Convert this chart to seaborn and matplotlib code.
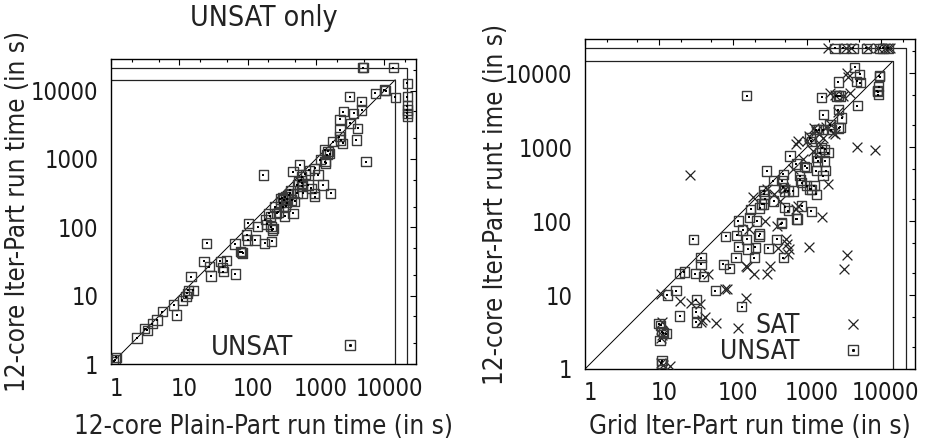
import numpy as np
import pandas as pd
import seaborn as sns
import matplotlib.pyplot as plt
from matplotlib.lines import Line2D
from matplotlib.ticker import FixedLocator, NullFormatter
import matplotlib.transforms as mtransforms

# timeout limit (4h) and the value used to plot failed / timed-out runs
T_LIMIT = 14400
T_FAIL = 21600

# ---- left panel: 12-core Plain-Part vs 12-core Iter-Part, UNSAT only ----
left_x = [1.15, 1.2, 1.1, 2.4, 3.4, 3.1, 4.0, 4.7, 5.6, 8.3, 9.2, 11, 13, 13.5, 12.5, 16,
          14.8, 23, 25, 27.6, 29, 43, 44, 49, 40, 66, 65, 78, 82, 85, 97, 102, 100, 128,
          140, 170, 178, 205, 215, 220, 225, 230, 235, 265, 280, 340, 355, 350, 360, 370,
          380, 415, 440, 460, 490, 525, 460, 575, 610, 620, 630, 615, 640, 760, 850, 960,
          950, 960, 1070, 1260, 1350, 1380, 1350, 1450, 1580, 1630, 1770, 2200, 2300, 2450,
          2240, 2240, 2520, 3100, 3160, 3540, 3870, 4080, 4600, 4650, 5400, 7400, 10500,
          10000, T_LIMIT, T_FAIL, T_FAIL, T_FAIL, T_FAIL, T_FAIL, T_FAIL, 4800, 4900, 13500,
          300, 320, 330, 400, 420, 530, 560, 700, 800, 1150, 1500, 180, 190, 250, 300]
left_y = [1.15, 1.25, 1.1, 2.4, 3.1, 3.3, 3.9, 4.4, 5.8, 7.3, 5.2, 8.6, 10.8, 12, 9.6, 12,
          19, 31.6, 58, 26.5, 19.4, 26, 22.5, 32.6, 32, 20.7, 57, 44, 43, 42, 77, 114, 65, 65,
          102, 583, 58, 160, 144, 102, 62, 91, 96, 160, 165, 250, 280, 144, 205, 230,
          260, 315, 250, 160, 240, 315, 650, 815, 490, 550, 440, 400, 315, 417, 370, 315,
          280, 730, 583, 417, 910, 870, 1350, 1150, 1200, 315, 1780, 2130, 1900, 1700,
          2650, 3800, 4900, 8150, 3330, 4680, 1900, 2820, 6900, 5200, 910, 9100, 10000,
          10200, 8000, 12800, 8150, 6000, 5200, 4650, 4170, T_FAIL, T_FAIL, T_FAIL,
          230, 270, 200, 300, 350, 420, 470, 600, 680, 980, 1300, 130, 110, 200, 260]

# ---- right panel: Grid Iter-Part vs 12-core Iter-Part ----
right_unsat_x = [2400, 3100, 4200, 6400, 9700, 10700, 12600,
                 4450, 4700, 5200, 5300, 2650, 9700, 9400, 9100, 9300, 9000, 9500,
                 4800, 1580, 2500, 2650, 2800, 2650, 2950, 1660, 153,
                 2700, 2800, 2050, 2150, 1350, 1450, 1660, 1100, 1150,
                 1580, 1740, 1950, 1500, 1350, 1400, 1740, 590, 720, 930, 1000,
                 1350, 1800, 1650, 800, 820, 850, 1000, 1100, 1150, 1350, 1250,
                 285, 350, 480, 480, 460, 260, 265, 270, 262, 355, 500, 560, 650,
                 500, 560, 850, 720, 740, 1150, 455, 450, 245, 230, 173, 166, 209,
                 118, 135, 112, 80, 29, 153, 160, 200, 230, 225, 300, 390, 118,
                 110, 195, 480, 37, 37, 74, 91, 19, 22, 31, 40, 17, 13, 58,
                 32, 32, 32, 131, 19, 10, 10.5, 11, 11.5, 12.5, 10.3, 11, 10.8]
right_unsat_y = [T_FAIL, T_FAIL, T_FAIL, T_FAIL, T_FAIL, T_FAIL, T_FAIL,
                 12000, 7750, 9700, 7450, 7600, 9000, 6600, 5650, 5100, 5800, 9300,
                 3630, 4700, 4900, 4950, 4900, 3220, 2470, 2750, 4950,
                 1820, 1850, 2000, 1730, 1730, 1730, 1730, 1330, 1200,
                 980, 930, 840, 840, 720, 650, 650, 760, 590, 550, 530,
                 480, 480, 410, 410, 360, 330, 300, 270, 270, 230, 300,
                 475, 350, 430, 285, 350, 255, 230, 200, 170, 187, 256, 256, 256,
                 153, 138, 160, 107, 107, 135, 95, 92, 170, 150, 145, 112, 100,
                 100, 76, 64, 62, 57, 57, 42, 44, 67, 63, 43, 57, 45,
                 32, 32, 32, 32, 26, 26, 23, 19.5, 20.5, 19.5, 18, 11.5, 10, 11.5,
                 8.7, 5.9, 4.3, 7.0, 5.2, 4.1, 3.9, 3.2, 3.1, 3.0, 2.4, 1.3, 1.2]

right_sat_x = [1940, 3430, 4000, 6700, 9200, 11300, 13200, 12600,
               26, 4800, 8400, 1620, 1070, 3450, 3170, 520, 545, 570, 550, 410, 316, 290,
               190, 150, 155, 150, 116, 59, 42, 38, 36, 37, 46, 27, 19, 10.7, 11, 11, 10.8,
               14, 10.5, 11.5, 82, 78, 166, 185, 285, 270, 355, 480, 500, 390, 720, 760,
               1000, 1080, 1230, 1330, 1500, 1650, 2280, 2400, 2050, 2400, 3100, 3800,
               3450, 3600, 1950, 720, 750, 435, 640, 880, 1200, 1450, 1800, 2100, 2600]
right_sat_y = [T_FAIL, T_FAIL, T_FAIL, T_FAIL, T_FAIL, T_FAIL, T_FAIL, T_FAIL,
               415, 1000, 910, 115, 44, 35, 22.5, 57, 49, 42, 36, 43, 24.5, 19,
               19.5, 25, 24, 9.2, 3.6, 4.2, 5.0, 4.6, 7.6, 4.3, 19.5, 7.8, 8.2, 10.2, 4.3, 2.9, 2.6,
               1.1, 1.2, 1.15, 12.2, 12.0, 78, 210, 270, 100, 230, 285, 270, 87, 1090, 1200,
               1200, 1400, 1820, 1650, 1100, 1340, 1550, 1500, 5400, 5100, 4900, 5400,
               10000, 9000, 315, 145, 160, 187, 500, 700, 900, 1500, 1900, 2000, 3000]

df_left = pd.DataFrame({"x": left_x, "y": left_y})
df_unsat = pd.DataFrame({"x": right_unsat_x, "y": right_unsat_y})
df_sat = pd.DataFrame({"x": right_sat_x, "y": right_sat_y})

sns.set_theme(style="white")
plt.rcParams["font.family"] = ["DejaVu Sans"]
plt.rcParams["font.stretch"] = "condensed"

FS = 17
EDGE = "#3a3a3a"
SQ_SIZE = 44
X_SIZE = 50

fig = plt.figure(figsize=(9.26, 4.43), dpi=100)
ax1 = fig.add_axes([111 / 926, 1 - 364 / 443, 305 / 926, 305 / 443])
ax2 = fig.add_axes([585 / 926, 1 - 369 / 443, 330 / 926, 330 / 443])


def draw_unsat(ax, df):
    sns.scatterplot(data=df, x="x", y="y", ax=ax, marker="s", s=SQ_SIZE,
                    facecolor="none", edgecolor=EDGE, linewidth=1.0, legend=False, zorder=3)
    sns.scatterplot(data=df, x="x", y="y", ax=ax, marker="s", s=1.2,
                    color="black", linewidth=0, legend=False, zorder=4)


def draw_sat(ax, df):
    sns.scatterplot(data=df, x="x", y="y", ax=ax, marker="x", s=X_SIZE,
                    color="#222222", linewidth=0.9, legend=False, zorder=3)


def frame(ax, xlabel, ylabel, xlab_y, ylab_x):
    ax.set_xscale("log")
    ax.set_yscale("log")
    ax.set_xlim(1, 29000)
    ax.set_ylim(1, 29000)
    # diagonal and the two timeout corners
    ax.plot([1, T_LIMIT], [1, T_LIMIT], color="black", lw=0.7, zorder=2)
    for t in (T_LIMIT, T_FAIL):
        ax.plot([1, t, t], [t, t, 1], color="#222222", lw=0.9, zorder=2)
    majors = [1, 10, 100, 1000, 10000]
    minors = [m * 10 ** k for k in range(5) for m in (2, 5)]
    for axis in (ax.xaxis, ax.yaxis):
        axis.set_major_locator(FixedLocator(majors))
        axis.set_minor_locator(FixedLocator(minors))
        axis.set_minor_formatter(NullFormatter())
    ax.set_xticklabels([str(v) for v in majors])
    ax.set_yticklabels([str(v) for v in majors])
    ax.tick_params(which="both", direction="in", top=True, right=True,
                   labelsize=FS, colors="black", labelcolor="#1a1a1a")
    ax.tick_params(which="major", length=4, width=0.8, pad=9)
    ax.tick_params(which="minor", length=2.5, width=0.8)
    shift = mtransforms.ScaledTranslation(5 / 100, 0, fig.dpi_scale_trans)
    for lab in ax.get_xticklabels():
        lab.set_transform(lab.get_transform() + shift)
    for sp in ax.spines.values():
        sp.set_color("black")
        sp.set_linewidth(1.0)
    ax.set_xlabel(xlabel, fontsize=FS + 1.6, color="#222222")
    ax.set_ylabel(ylabel, fontsize=FS + 1.6, color="#222222")
    ax.xaxis.set_label_coords(0.5, xlab_y)
    ax.yaxis.set_label_coords(ylab_x, 0.5)
    ax.xaxis.label.set_va("center")
    ax.yaxis.label.set_va("center")


draw_unsat(ax1, df_left)
frame(ax1, "12-core Plain-Part run time (in s)", "12-core Iter-Part run time (in s)",
      -0.207, -0.305)

draw_sat(ax2, df_sat)
draw_unsat(ax2, df_unsat)
frame(ax2, "Grid Iter-Part run time (in s)", "12-core Iter-Part runt ime (in s)",
      -0.176, -0.27)

# legends in gnuplot style: right-justified text, sample after it
sq_handle = (Line2D([], [], ls="none", marker="s", ms=6.6, mfc="none", mec=EDGE, mew=1.0),
             Line2D([], [], ls="none", marker="s", ms=1.1, color="black"))
x_handle = Line2D([], [], ls="none", marker="x", ms=7.0, color="#222222", mew=0.9)
ax1.legend([sq_handle], ["UNSAT"], loc="lower right", bbox_to_anchor=(0.93, -0.07),
           frameon=False, markerfirst=False, fontsize=FS + 2.7, handletextpad=1.3,
           handlelength=1.5)
ax2.legend([x_handle, sq_handle], ["SAT", "UNSAT"], loc="lower right",
           bbox_to_anchor=(0.943, -0.06), frameon=False, markerfirst=False,
           fontsize=FS + 2, handletextpad=1.25, handlelength=1.5, labelspacing=0.0)

fig.text(263.5 / 926, 1 - 18 / 443, "UNSAT only", ha="center", va="center",
         fontsize=FS + 3.5, color="#222222")

fig.savefig("out.png", dpi=100)
